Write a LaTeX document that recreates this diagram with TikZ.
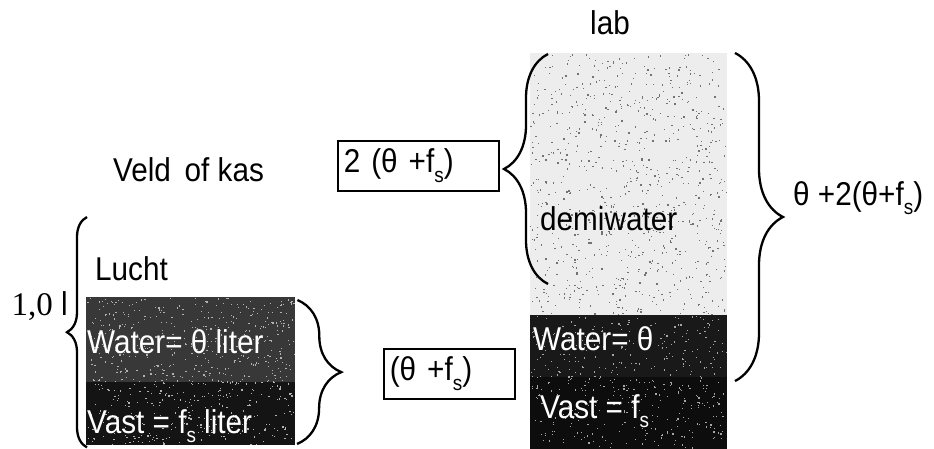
\documentclass[tikz,border=0pt]{standalone}
\usepackage{fontspec}
\setmainfont{Liberation Sans}[FakeStretch=0.9]
\newfontfamily\numserif{Liberation Serif}
\usetikzlibrary{decorations.pathreplacing}
\newcommand\lowsub[1]{\raisebox{-0.55ex}{\fontsize{21}{21}\selectfont #1}}
\tikzset{
  lbl/.style={font=\fontsize{33}{35}\selectfont, inner sep=0pt},
  wlbl/.style={lbl, text=white},
  slab/.style={draw=none, inner sep=0pt, anchor=north west},
  valbox/.style={draw, line width=1.7pt, lbl, inner xsep=6pt, align=left, minimum height=50pt, anchor=north west},
  curly/.style={decorate, decoration={brace, amplitude=#1}, line width=2.3pt},
}
\begin{document}
\begin{tikzpicture}[x=1pt, y=-1pt]
\useasboundingbox (0,0) rectangle (934,449);
\fill[white] (0,0) rectangle (934,449);

% field sample column
\node[slab, fill=black!78, minimum width=209pt, minimum height=85pt] (lw) at (86,297) {};
\node[slab, fill=black!92, minimum width=209pt, minimum height=63pt] (lv) at (86,382) {};
% lab column
\node[slab, fill=black!7, minimum width=197pt, minimum height=262pt] (rd) at (530,53) {};
\node[slab, fill=black!90, minimum width=197pt, minimum height=62pt] (rw) at (530,315) {};
\node[slab, fill=black!95, minimum width=197pt, minimum height=72pt] (rv) at (530,377) {};

% speckle texture
\pgfmathsetseed{4217}
\foreach \i in {1,...,800}{
  \pgfmathsetmacro\px{530+196*rnd}\pgfmathsetmacro\py{54+260*rnd}
  \fill[black!55] (\px,\py) rectangle ++(1.3,1.3);
}
\foreach \i in {1,...,700}{
  \pgfmathsetmacro\px{87+207*rnd}\pgfmathsetmacro\py{298+146*rnd}
  \fill[white!70!black] (\px,\py) rectangle ++(1.2,1.2);
}
\foreach \i in {1,...,450}{
  \pgfmathsetmacro\px{531+195*rnd}\pgfmathsetmacro\py{316+132*rnd}
  \fill[white!65!black] (\px,\py) rectangle ++(1.2,1.2);
}

% labels
\node[lbl, anchor=base] (lab) at (610,35) {lab};
\node[lbl, anchor=base west] (veld) at (113,182) {Veld\, of kas};
\node[lbl, anchor=base west] (lucht) at (95,280) {Lucht};
\node[lbl, anchor=base east] (lit) at (68,315) {{\numserif 1,0} l};
\node[wlbl, anchor=base west] (lwt) at (87,353) {Water= θ liter};
\node[wlbl, anchor=base west] (lvt) at (87,433) {Vast = f\lowsub{s} liter};
\node[lbl, anchor=base west] (demi) at (540,230) {demiwater};
\node[wlbl, anchor=base west] (rwt) at (533,350) {Water= θ};
\node[wlbl, anchor=base west] (rvt) at (540,418) {Vast = f\lowsub{s}};
\node[lbl, anchor=base west] (tot) at (793,205) {θ +2(θ+f\lowsub{s})};

% boxed quantities
\node[valbox, text width=149pt] (twice) at (337,140) {2 (θ +f\lowsub{s})};
\node[valbox, text width=119pt] (once) at (383,348) {(θ +f\lowsub{s})};

% braces
\draw[curly=20pt] (lv.south west) ++(1,2) coordinate (lb1) -- (87,217) coordinate (lb2);
\draw[curly=44pt] (lw.north east) ++(2,3) coordinate (mb1) -- (297,444) coordinate (mb2);
\draw[curly=44pt] (548,284) coordinate (ib1) -- (548,54) coordinate (ib2);
\draw[curly=48pt] (735,53) coordinate (bb1) -- (735,381) coordinate (bb2);
\end{tikzpicture}
\end{document}
